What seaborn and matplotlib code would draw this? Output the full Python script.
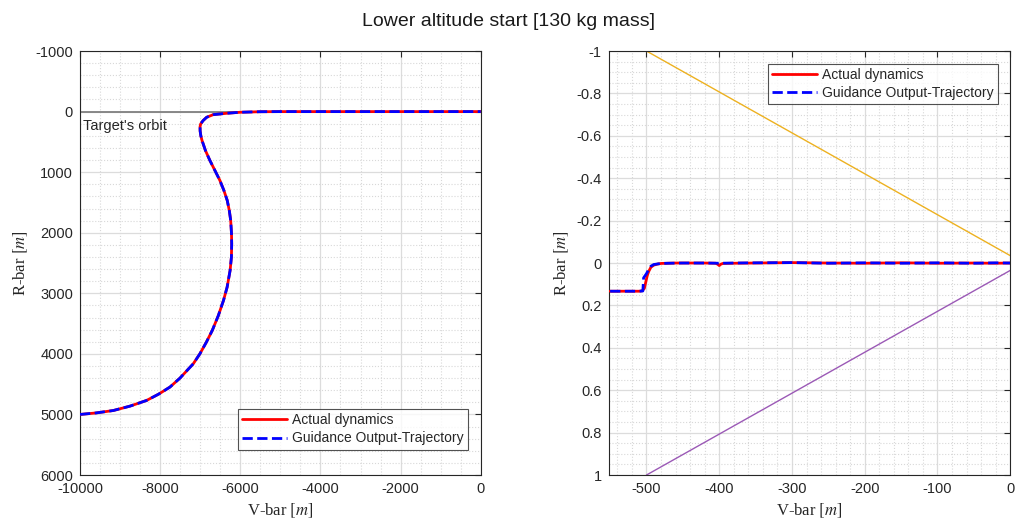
import numpy as np
import pandas as pd
import matplotlib
matplotlib.use("Agg")
import matplotlib.pyplot as plt
import seaborn as sns
from matplotlib.ticker import MultipleLocator, FuncFormatter

# ---------------- data ----------------
# Left panel: full trajectory (V-bar, R-bar) in metres
left_vbar = [-10000, -9600, -9169, -8750, -8337, -8040, -7756, -7506, -7174,
             -7010, -6850, -6700, -6550, -6420, -6330, -6255, -6222, -6215,
             -6220, -6240, -6275, -6326, -6409, -6509, -6633, -6758, -6870,
             -6955, -6985, -7003, -7005, -6990, -6930, -6841, -6675, -6342,
             -6010, -5511, -5000, -4000, -3000, -2000, -1000, 0]
left_rbar = [5000, 4975, 4935, 4862, 4768, 4665, 4548, 4400, 4163,
             4000, 3810, 3613, 3370, 3118, 2900, 2623, 2400, 2183,
             2018, 1798, 1633, 1468, 1303, 1138, 973, 808, 643,
             478, 400, 320, 250, 204, 149, 94, 50, 28,
             11, 2, 0, 0, 0, 0, 0, 0]

# Right panel: final approach (zoom)
right_act_vbar = [-550, -530, -510, -506, -503, -501, -499, -497, -494, -490,
                  -485, -480, -470, -460, -440, -420, -405, -402, -400, -398,
                  -395, -380, -350, -300, -250, -200, -150, -100, -50, -20, 0]
right_act_rbar = [0.133, 0.133, 0.133, 0.131, 0.12, 0.09, 0.06, 0.04, 0.02, 0.01,
                  0.005, 0.002, 0.001, 0.0, 0.0, 0.0, 0.001, 0.006, 0.012, 0.006,
                  0.002, 0.001, 0.0, -0.002, 0.0, 0.001, -0.001, 0.001, 0.0, 0.001, 0.0]
right_gd_vbar = [-550, -530, -510, -505, -504, -500, -497, -494, -490, -480,
                 -470, -450, -420, -400, -380, -350, -300, -250, -200, -150,
                 -100, -50, -20, 0]
right_gd_rbar = [0.133, 0.133, 0.133, 0.132, 0.07, 0.05, 0.03, 0.015, 0.007, 0.002,
                 0.001, 0.0, 0.0, 0.001, 0.0, -0.001, -0.002, 0.001, -0.001, 0.001,
                 -0.001, 0.001, -0.001, 0.0]

# approach-cone boundary lines
cone_vbar = [-500, 0]
cone_upper = [-1, -0.035]
cone_lower = [1, 0.035]

title = "Lower altitude start [130 kg mass]"
series_names = ["Actual dynamics", "Guidance Output-Trajectory"]

# ---------------- style ----------------
sns.set_theme(style="white")
plt.rcParams['font.family'] = ['Liberation Sans', 'DejaVu Sans']
plt.rcParams['mathtext.fontset'] = 'stix'
plt.rcParams['axes.unicode_minus'] = False

fig = plt.figure(figsize=(10.17, 5.25), dpi=100)
axL = fig.add_axes([0.0787, 0.0952, 0.394, 0.8076])
axR = fig.add_axes([0.5985, 0.0952, 0.3948, 0.8076])

df_left = pd.DataFrame({"x": left_vbar, "y": left_rbar})
df_ra = pd.DataFrame({"x": right_act_vbar, "y": right_act_rbar})
df_rg = pd.DataFrame({"x": right_gd_vbar, "y": right_gd_rbar})

red = "#FF0000"
blue = "#0000FF"
spine_c = "#262626"

def style_axes(ax):
    ax.grid(True, which='major', color='#dcdcdc', linewidth=0.9, linestyle='-')
    ax.grid(True, which='minor', color='#d8d8d8', linewidth=0.8, linestyle=':')
    ax.set_axisbelow(True)
    ax.tick_params(which='major', direction='in', length=4, width=0.8,
                   top=True, right=True, labelsize=10.5, colors=spine_c,
                   pad=5)
    ax.tick_params(which='minor', length=0)
    for sp in ax.spines.values():
        sp.set_color(spine_c)
        sp.set_linewidth(0.8)
        sp.set_visible(True)

# Left panel
axL.axhline(0, color='#808080', linewidth=1.3, zorder=1)
sns.lineplot(data=df_left, x="x", y="y", sort=False, estimator=None, ax=axL,
             color=red, linewidth=2, label=series_names[0], zorder=3)
sns.lineplot(data=df_left, x="x", y="y", sort=False, estimator=None, ax=axL,
             color=blue, linewidth=2, linestyle='--', label=series_names[1], zorder=4)
for ln in axL.get_lines():
    ln.set_solid_joinstyle('round')
    ln.set_dash_joinstyle('round')
axL.set_xlim(-10000, 0)
axL.set_ylim(6000, -1000)
axL.xaxis.set_major_locator(MultipleLocator(2000))
axL.xaxis.set_minor_locator(MultipleLocator(500))
axL.yaxis.set_major_locator(MultipleLocator(1000))
axL.yaxis.set_minor_locator(MultipleLocator(200))
axL.text(-9925, 230, "Target's orbit", fontsize=10.5, color='#262626',
         ha='left', va='center')
style_axes(axL)
axL.set_xlabel("V-bar $[m]$", fontsize=12, family='Liberation Serif', color='#262626')
axL.set_ylabel("R-bar $[m]$", fontsize=12, family='Liberation Serif', color='#262626')
legL = axL.legend(loc='lower right', bbox_to_anchor=(0.968, 0.06), fontsize=10,
                  frameon=True, fancybox=False, edgecolor=spine_c, handlelength=3.2,
                  borderpad=0.3, labelspacing=0.3, handletextpad=0.4, borderaxespad=0)
legL.get_frame().set_linewidth(0.8)

# Right panel
sns.lineplot(x=cone_vbar, y=cone_upper, ax=axR, color="#EDB120", linewidth=1.0, zorder=2)
sns.lineplot(x=cone_vbar, y=cone_lower, ax=axR, color="#9B59B6", linewidth=1.0, zorder=2)
sns.lineplot(data=df_ra, x="x", y="y", sort=False, estimator=None, ax=axR,
             color=red, linewidth=2, label=series_names[0], zorder=3)
sns.lineplot(data=df_rg, x="x", y="y", sort=False, estimator=None, ax=axR,
             color=blue, linewidth=2, linestyle='--', label=series_names[1], zorder=4)
axR.set_xlim(-552, 0)
axR.set_ylim(1, -1)
axR.xaxis.set_major_locator(MultipleLocator(100))
axR.xaxis.set_minor_locator(MultipleLocator(20))
axR.yaxis.set_major_locator(MultipleLocator(0.2))
axR.yaxis.set_minor_locator(MultipleLocator(0.05))
axR.yaxis.set_major_formatter(FuncFormatter(
    lambda v, p: ("%g" % round(v, 2)) if abs(v) > 1e-9 else "0"))
style_axes(axR)
axR.set_xlabel("V-bar $[m]$", fontsize=12, family='Liberation Serif', color='#262626')
axR.set_ylabel("R-bar $[m]$", fontsize=12, family='Liberation Serif', color='#262626')
legR = axR.legend(loc='upper right', bbox_to_anchor=(0.97, 0.97), fontsize=10,
                  frameon=True, fancybox=False, edgecolor=spine_c, handlelength=3.2,
                  borderpad=0.3, labelspacing=0.3, handletextpad=0.4, borderaxespad=0)
legR.get_frame().set_linewidth(0.8)

fig.suptitle(title, fontsize=14, y=0.975, color='#1a1a1a')

fig.savefig("out.png", dpi=100)
